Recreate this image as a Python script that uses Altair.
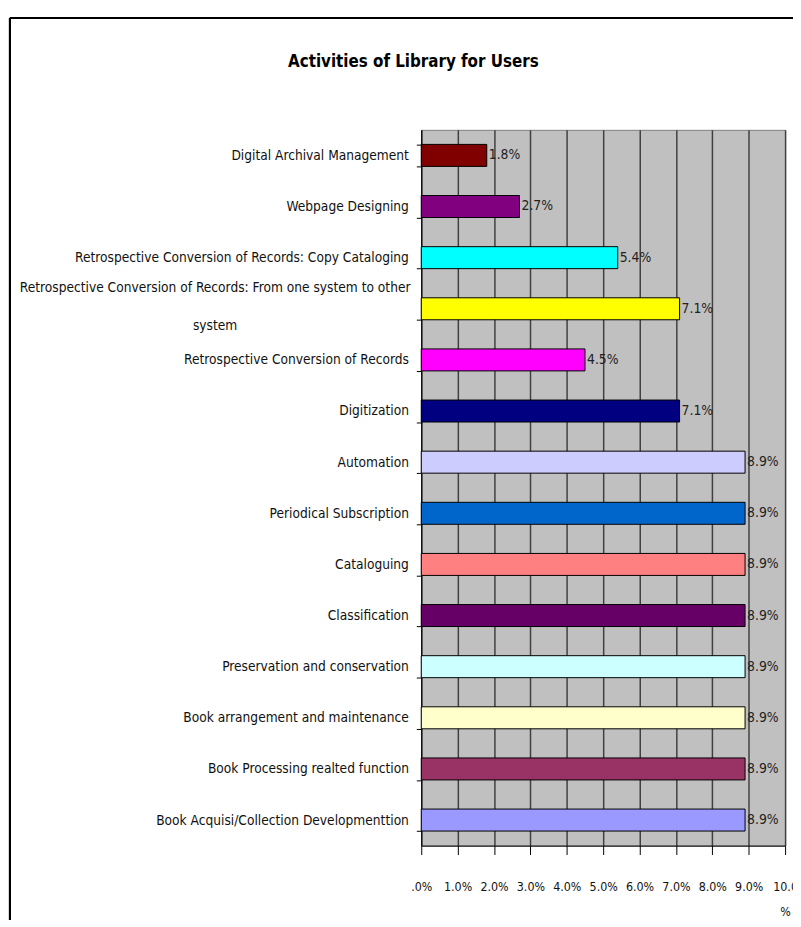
import altair as alt
import pandas as pd

FONT = "DejaVu Sans Condensed, Liberation Sans Narrow, Arial Narrow, sans-serif"

categories = [
    "Digital Archival Management",
    "Webpage Designing",
    "Retrospective Conversion of Records: Copy Cataloging",
    "Retrospective Conversion of Records: From one system to other system",
    "Retrospective Conversion of Records",
    "Digitization",
    "Automation",
    "Periodical Subscription",
    "Cataloguing",
    "Classification",
    "Preservation and conservation",
    "Book arrangement and maintenance",
    "Book Processing realted function",
    "Book Acquisi/Collection Developmenttion",
]
values = [1.8, 2.7, 5.4, 7.1, 4.5, 7.1, 8.9, 8.9, 8.9, 8.9, 8.9, 8.9, 8.9, 8.9]
colors = [
    "#800000", "#800080", "#00FFFF", "#FFFF00", "#FF00FF", "#000080",
    "#CCCCFF", "#0066CC", "#FF8080", "#660066", "#CCFFFF", "#FFFFCC",
    "#993366", "#9999FF",
]
x_ticks = [0, 1, 2, 3, 4, 5, 6, 7, 8, 9, 10]

df = pd.DataFrame({"activity": categories, "value": values})

long_label = categories[3]
is_long = f"datum.value == '{long_label}'"
label_expr = (
    f"{is_long} ? "
    "['Retrospective Conversion of Records: From one system to other', 'system'] : datum.label"
)
x_label_expr = (
    "datum.value == 0 ? '.0%' : (datum.value == 10 ? ['10.0', '%'] : format(datum.value, '.1f') + '%')"
)

y_enc = alt.Y(
    "activity:N",
    sort=categories,
    title=None,
    scale=alt.Scale(paddingInner=0.57, paddingOuter=0.285),
    axis=alt.Axis(
        labelExpr=label_expr,
        labelFont=FONT,
        labelFontSize=13.8,
        labelColor="#111111",
        labelPadding={"condition": {"test": is_long, "value": 204}, "value": 8},
        labelAlign={"condition": {"test": is_long, "value": "center"}, "value": "right"},
        labelLimit=0,
        labelLineHeight=38,
        labelOffset={"condition": {"test": is_long, "value": -21}, "value": 0},
        tickBand="extent",
        tickSize=5,
        tickColor="black",
        domainColor="black",
        grid=False,
    ),
)
x_enc = alt.X(
    "value:Q",
    title=None,
    scale=alt.Scale(domain=[0, 10], nice=False),
    axis=alt.Axis(
        values=x_ticks,
        labelExpr=x_label_expr,
        labelOverlap=False,
        labelFlush=False,
        labelFont=FONT,
        labelFontSize=12.5,
        labelColor="#111111",
        labelPadding=26,
        labelLineHeight=26,
        tickSize=9,
        tickColor="black",
        domainColor="black",
        grid=True,
        gridColor="#404040",
        gridOpacity=1,
        gridWidth=1.5,
    ),
)

base = alt.Chart(df)

bars = base.mark_bar(stroke="black", strokeWidth=1).encode(
    y=y_enc,
    x=x_enc,
    color=alt.Color("activity:N", scale=alt.Scale(domain=categories, range=colors), legend=None),
)

labels = base.transform_calculate(
    txt="format(datum.value, '.1f') + '%'"
).mark_text(align="left", baseline="middle", dx=2, font=FONT, fontSize=14, color="#222222").encode(
    y=y_enc,
    x=x_enc,
    text="txt:N",
)

frame_left = alt.Chart(df).mark_rule(color="black", strokeWidth=2).encode(
    x=alt.value(-416), y=alt.value(-113), y2=alt.value(800)
)
frame_top = alt.Chart(df).mark_rule(color="black", strokeWidth=2).encode(
    x=alt.value(-416), x2=alt.value(400), y=alt.value(-113)
)

chart = alt.layer(bars, labels, frame_left, frame_top).properties(
    width=368,
    height=724,
    autosize=alt.AutoSizeParams(type="none"),
    padding={"left": 418, "top": 118, "right": 8, "bottom": 70},
    title=alt.TitleParams(
        "Activities of Library for Users",
        font=FONT,
        fontSize=17,
        fontWeight="bold",
        color="black",
        anchor="middle",
        dx=-192,
        offset=-54,
    ),
).configure_view(fill="#C0C0C0", stroke="#808080", strokeWidth=1)

chart.save("out.html", embed_options={"renderer": "svg", "actions": False})
